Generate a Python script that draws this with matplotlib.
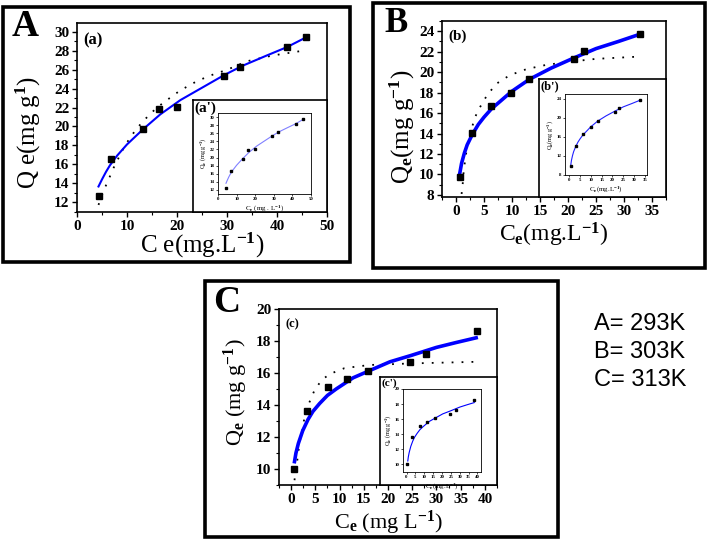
import numpy as np
import matplotlib
matplotlib.use('Agg')
import matplotlib.pyplot as plt
from matplotlib.patches import Rectangle
from matplotlib.ticker import MultipleLocator, AutoMinorLocator

plt.rcParams['font.family'] = 'Liberation Serif'
plt.rcParams['font.weight'] = 'bold'
plt.rcParams['mathtext.fontset'] = 'custom'
plt.rcParams['mathtext.rm'] = 'Liberation Serif:bold'
plt.rcParams['mathtext.it'] = 'Liberation Serif:bold'
plt.rcParams['mathtext.bf'] = 'Liberation Serif:bold'
plt.rcParams['mathtext.default'] = 'rm'

# ---- datos ----
# A (293 K)
ce_a = [4.3, 6.8, 13.2, 16.3, 20.0, 29.3, 32.5, 42.0, 45.7]
qe_a = [12.6, 16.6, 19.7, 21.8, 22.1, 25.3, 26.3, 28.4, 29.5]
fr_x_a = [4.3, 5.0, 5.8, 6.6, 8.0, 10.0, 13.2, 16.7, 20.7, 25.0, 29.3, 33.0, 37.9, 42.0, 45.7]
fr_y_a = [13.65, 14.4, 15.2, 15.9, 16.9, 18.1, 19.7, 21.3, 22.8, 24.1, 25.4, 26.4, 27.5, 28.4, 29.4]
la_x_a = [4.3, 5.3, 6.0, 7.3, 9.0, 10.0, 11.0, 12.0, 13.3, 14.6, 16.0, 18.0, 20.6, 24.0, 26.7, 30.0, 34.0, 39.0, 45.0]
la_y_a = [11.7, 13.2, 14.0, 15.6, 17.4, 18.3, 19.1, 19.8, 20.6, 21.3, 22.0, 22.8, 23.8, 24.8, 25.4, 26.0, 26.9, 27.5, 28.0]

# B (303 K)
ce_b = [0.7, 2.9, 6.3, 9.9, 13.1, 21.1, 22.8, 32.8]
qe_b = [9.8, 14.1, 16.7, 18.0, 19.3, 21.3, 22.1, 23.7]
fr_x_b = [0.7, 1.0, 1.5, 2.0, 2.9, 4.0, 5.0, 6.3, 8.0, 9.9, 13.1, 17.0, 21.1, 25.0, 29.0, 32.8]
fr_y_b = [10.2, 11.1, 12.1, 12.9, 13.9, 14.9, 15.6, 16.4, 17.2, 18.1, 19.3, 20.4, 21.4, 22.3, 23.0, 23.7]
la_x_b = [1.0, 1.2, 1.4, 1.9, 2.4, 2.8, 3.4, 4.2, 5.6, 7.3, 9.6, 12.6, 16.0, 20.0, 25.0, 32.0]
la_y_b = [8.1, 9.1, 10.5, 12.4, 13.6, 14.5, 15.6, 16.5, 17.8, 18.9, 19.7, 20.3, 20.7, 21.0, 21.3, 21.5]

# C (313 K)
ce_c = [0.5, 3.2, 7.6, 11.5, 15.9, 24.5, 27.8, 38.3]
qe_c = [10.0, 13.6, 15.1, 15.6, 16.1, 16.7, 17.2, 18.6]
fr_x_c = [0.7, 1.0, 1.5, 2.4, 3.5, 4.5, 5.9, 7.5, 9.3, 12.8, 16.2, 20.4, 24.8, 30.0, 34.0, 38.2]
fr_y_c = [10.46, 11.0, 11.6, 12.4, 13.1, 13.6, 14.1, 14.6, 15.0, 15.7, 16.15, 16.7, 17.1, 17.6, 17.9, 18.2]
la_x_c = [0.7, 0.9, 1.4, 1.7, 2.3, 2.75, 3.4, 4.1, 4.8, 5.7, 6.5, 7.8, 9.3, 11.0, 13.5, 16.2, 25.0, 38.3]
la_y_c = [9.3, 9.8, 10.8, 11.6, 12.4, 13.2, 13.9, 14.4, 14.9, 15.3, 15.6, 15.9, 16.1, 16.3, 16.4, 16.5, 16.6, 16.7]

temps = ['A= 293K', 'B= 303K', 'C= 313K']

W, H = 709, 539
fig = plt.figure(figsize=(W / 100, H / 100), dpi=100)


def px(l, t, r, b):
    return [l / W, 1 - b / H, (r - l) / W, (b - t) / H]


def caja(l, t, r, b):
    fig.patches.append(Rectangle((l / W, 1 - b / H), (r - l) / W, (b - t) / H,
                                 transform=fig.transFigure, fill=False,
                                 lw=2.6, ec='black', zorder=0))


def eje_principal(rect, xlim, ylim, xmaj, ymaj, fs=11):
    ax = fig.add_axes(px(*rect))
    ax.set_xlim(*xlim)
    ax.set_ylim(*ylim)
    ax.xaxis.set_major_locator(MultipleLocator(xmaj))
    ax.yaxis.set_major_locator(MultipleLocator(ymaj))
    ax.xaxis.set_minor_locator(AutoMinorLocator(2))
    ax.yaxis.set_minor_locator(AutoMinorLocator(2))
    ax.tick_params(which='major', length=3.5, width=1, labelsize=fs, pad=2)
    ax.tick_params(which='minor', length=2, width=0.8)
    for s in ax.spines.values():
        s.set_linewidth(1.2)
    return ax


def recuadro(rect, inner, xlim, ylim, xt, yt, x, y, fx, fy, color, tag, tfs, xl, yl):
    bg = fig.add_axes(px(*rect))
    bg.set_xticks([])
    bg.set_yticks([])
    for s in bg.spines.values():
        s.set_linewidth(1.2)
    bg.text(0.01, 0.99, tag, transform=bg.transAxes, ha='left', va='top',
            fontsize=tfs, fontweight='bold')
    ax = fig.add_axes(px(*inner))
    ax.plot(fx, fy, color=color, lw=0.8)
    ax.plot(x, y, 's', color='black', ms=1.8)
    ax.set_xlim(*xlim)
    ax.set_ylim(*ylim)
    ax.set_xticks(xt)
    ax.set_yticks(yt)
    ax.tick_params(length=1.5, width=0.5, labelsize=3.5, pad=1)
    for s in ax.spines.values():
        s.set_linewidth(0.6)
    ax.set_xlabel(xl, fontsize=5, labelpad=1)
    ax.set_ylabel(yl, fontsize=4.5, labelpad=1)
    return ax


# ---------- panel A ----------
caja(3, 7, 350, 262)
axA = eje_principal((77, 23, 327, 212), (0, 50), (10.95, 30.95), 10, 2)
axA.plot(fr_x_a, fr_y_a, color='#0000ff', lw=1.5, zorder=3)
axA.plot(la_x_a, la_y_a, color='black', lw=1.3, linestyle=(0, (1, 4.5)), zorder=2)
axA.plot(ce_a, qe_a, 's', color='black', ms=5, zorder=4)
axA.text(0.025, 0.95, '(a)', transform=axA.transAxes, ha='left', va='top', fontsize=12)
axA.set_xlabel('C e(mg.L$^{-1}$)', fontsize=18, labelpad=-1)
axA.set_ylabel('Q e(mg g$^{1}$)', fontsize=18)
axA.yaxis.set_label_coords(-0.135, 0.42)
fig.text(25 / W, 1 - 27 / H, 'A', fontsize=27, fontweight='bold', ha='center', va='center')
recuadro((193, 100, 327, 212), (218, 113, 311, 194), (0, 50), (11, 31),
         [0, 10, 20, 30, 40, 50], [12, 14, 16, 18, 20, 22, 24, 26, 28, 30],
         ce_a, qe_a, fr_x_a, fr_y_a, '#8080ff', "(a')", 11,
         'C$_e$ (mg . L$^{-1}$)', 'Q$_e$ (mg g$^{-1}$)')

# ---------- panel B ----------
caja(373, 3, 705, 268)
axB = eje_principal((442, 21, 666, 197), (-2.5, 37.5), (7.8, 25), 5, 2)
axB.plot(fr_x_b, fr_y_b, color='#0000ff', lw=2.6, zorder=3)
axB.plot(la_x_b, la_y_b, color='black', lw=1.3, linestyle=(0, (1, 4.5)), zorder=2)
axB.plot(ce_b, qe_b, 's', color='black', ms=5, zorder=4)
axB.text(0.03, 0.95, '(b)', transform=axB.transAxes, ha='left', va='top', fontsize=11)
axB.set_xlabel('C$_e$(mg.L$^{-1}$)', fontsize=17, labelpad=2)
axB.set_ylabel('Q$_e$(mg g$^{-1}$)', fontsize=18)
axB.yaxis.set_label_coords(-0.11, 0.40)
fig.text(396 / W, 1 - 23 / H, 'B', fontsize=25, fontweight='bold', ha='center', va='center')
recuadro((539, 79, 666, 197), (565, 94, 647, 175), (-2, 36), (8, 25),
         [0, 5, 10, 15, 20, 25, 30, 35], [8, 12, 16, 20, 24],
         ce_b, qe_b, fr_x_b, fr_y_b, '#2020ff', "(b')", 9,
         'C$_e$(mg.L$^{-1}$)', 'Q$_e$(mg g$^{-1}$)')

# ---------- panel C ----------
caja(205, 281, 558, 537)
axC = eje_principal((279, 309, 497, 485), (-2.5, 42.5), (9, 20), 5, 2)
axC.plot(fr_x_c, fr_y_c, color='#0000ff', lw=2.6, zorder=3)
axC.plot(la_x_c, la_y_c, color='black', lw=1.3, linestyle=(0, (1, 4.5)), zorder=2)
axC.plot(ce_c, qe_c, 's', color='black', ms=5, zorder=4)
axC.text(0.03, 0.95, '(c)', transform=axC.transAxes, ha='left', va='top', fontsize=9)
axC.set_xlabel('C$_e$ (mg L$^{-1}$)', fontsize=16, labelpad=2)
axC.set_ylabel('Q$_e$ (mg g$^{-1}$)', fontsize=16)
axC.yaxis.set_label_coords(-0.133, 0.53)
fig.text(227 / W, 1 - 303 / H, 'C', fontsize=27, fontweight='bold', ha='center', va='center')
recuadro((380, 377, 497, 485), (403, 389, 481, 472), (-2, 42), (9, 20),
         [0, 5, 10, 15, 20, 25, 30, 35, 40], [10, 12, 14, 16, 18, 20],
         ce_c, qe_c, fr_x_c, fr_y_c, '#0000ff', "(c')", 8,
         'C$_e$(mg.L$^{-1}$)', 'Q$_e$ (mg g$^{-1}$)')

# ---------- temperaturas ----------
for i, t in enumerate(temps):
    fig.text(594 / W, 1 - (324 + 28 * i) / H, t, fontsize=17, family='Liberation Sans',
             fontweight='normal', ha='left', va='center')

fig.savefig('out.png', dpi=100)
